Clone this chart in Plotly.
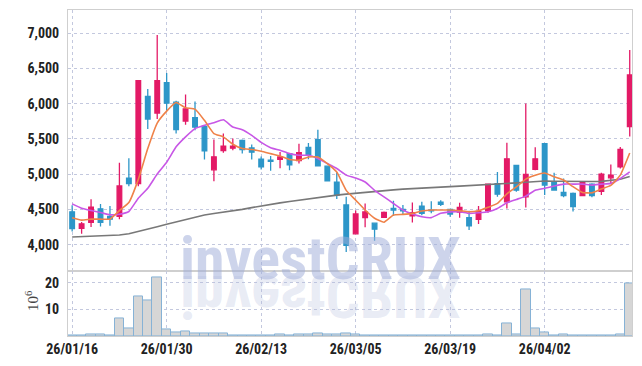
import plotly.graph_objects as go
from plotly.subplots import make_subplots

dates = ["26/01/16","26/01/19","26/01/20","26/01/21","26/01/22","26/01/23","26/01/26","26/01/27","26/01/28","26/01/29",
         "26/01/30","26/02/02","26/02/03","26/02/04","26/02/05","26/02/06","26/02/09","26/02/10","26/02/11","26/02/12",
         "26/02/13","26/02/19","26/02/20","26/02/23","26/02/24","26/02/25","26/02/26","26/02/27","26/03/03","26/03/04",
         "26/03/05","26/03/06","26/03/09","26/03/10","26/03/11","26/03/12","26/03/13","26/03/16","26/03/17","26/03/18",
         "26/03/19","26/03/20","26/03/23","26/03/24","26/03/25","26/03/26","26/03/27","26/03/30","26/03/31","26/04/01",
         "26/04/02","26/04/03","26/04/06","26/04/07","26/04/08","26/04/09","26/04/10","26/04/13","26/04/14","26/04/15"]

open_ = [4465,4230,4315,4508,4400,4400,4945,4865,6101,5866,
         6298,6021,5753,5800,5678,5062,5335,5368,5480,5372,
         5211,5197,5211,5291,5193,5380,5488,5113,4887,4563,
         4154,4383,4304,4388,4514,4500,4407,4547,4491,4603,
         4500,4462,4383,4359,4481,4866,4608,5124,4678,5068,
         5431,4892,4742,4728,4695,4859,4756,4948,5103,5675]
high = [4559,4320,4644,4578,4550,5161,5227,6330,6209,6975,
        6435,6040,6129,6030,5690,5490,5575,5504,5490,5420,
        5250,5258,5315,5300,5432,5441,5629,5120,5028,4681,
        4485,4584,4310,4470,4621,4561,4598,4607,4617,4631,
        4505,4594,4481,4547,4860,5031,5444,5130,6002,5383,
        5440,5019,4939,4740,4885,4870,5019,5136,5385,6759]
low = [4188,4155,4249,4258,4268,4362,4830,4830,5640,5781,
       5900,5575,5701,5622,5208,4898,5302,5340,5292,5208,
       5066,5047,5085,5056,5150,5211,5110,4900,4648,3897,
       4150,4248,4056,4380,4407,4435,4313,4416,4444,4547,
       4397,4383,4209,4293,4453,4678,4514,4750,4528,5054,
       4705,4765,4672,4470,4690,4672,4705,4869,5080,5535]
close = [4226,4296,4531,4315,4362,4832,4865,6327,5781,6327,
         6007,5631,5927,5669,5330,5246,5396,5396,5349,5311,
         5103,5183,5244,5131,5305,5277,5117,4906,4700,3990,
         4435,4463,4220,4458,4490,4481,4453,4444,4481,4570,
         4434,4528,4265,4472,4857,4716,5218,4772,4998,5218,
         4845,4775,4695,4540,4878,4695,5000,4986,5352,6407]

ma_short = [4381,4348,4362,4362,4362,4484,4597,4926,5363,5725,
            5894,6016,5941,5922,5763,5575,5528,5424,5363,5349,
            5325,5291,5258,5207,5197,5244,5244,5150,5030,4770,
            4632,4491,4374,4318,4421,4430,4444,4477,4491,4491,
            4491,4481,4467,4481,4530,4585,4720,4819,4930,4984,
            5016,4962,4916,4822,4740,4735,4790,4840,4986,5300]
ma_mid = [4578,4517,4484,4456,4423,4432,4470,4658,4799,5001,
          5168,5387,5528,5645,5692,5730,5772,5669,5631,5551,
          5450,5376,5338,5291,5268,5268,5221,5150,5080,4986,
          4945,4888,4771,4677,4584,4491,4435,4397,4383,4444,
          4465,4467,4444,4453,4467,4514,4594,4641,4688,4772,
          4800,4831,4859,4859,4859,4845,4859,4869,4939,5033]
ma_long = [4108,4112,4117,4122,4128,4138,4155,4185,4220,4255,
           4290,4325,4360,4395,4420,4442,4460,4480,4500,4525,
           4550,4572,4593,4613,4632,4650,4668,4685,4702,4716,
           4730,4742,4754,4765,4777,4787,4796,4804,4810,4817,
           4823,4830,4836,4842,4848,4856,4866,4876,4886,4895,
           4902,4900,4897,4895,4894,4895,4898,4908,4928,4968]
volume_m = [0.2,0.2,0.5,0.5,0.2,6.5,2.8,14.8,13.3,21.9,
            2.4,1.3,1.6,0.9,0.9,0.9,0.9,0.15,0.15,0.15,
            0.15,0.15,0.5,0.2,0.5,0.5,0.9,0.5,0.4,0.9,
            0.5,0.2,0.2,0.05,0.2,0.05,0.05,0.05,0.05,0.05,
            0.15,0.1,0.15,0.05,0.5,0.3,4.7,0.5,17.4,2.8,
            1.3,0.1,0.5,0.1,0.1,0.1,0.1,0.1,0.7,19.6]

tick_idx = [0, 10, 20, 30, 40, 50]
tick_dates = [dates[i] for i in tick_idx]

UP = "#e31a66"
DOWN = "#2d96c8"
COND = "Roboto Condensed, Roboto, sans-serif"
TICKFONT = dict(family=COND, size=14, color="#222222", weight="bold")
GRID = "#c3c8de"
FRAME = "#cfcfcf"

fig = make_subplots(rows=2, cols=1, shared_xaxes=True, vertical_spacing=0)

fig.add_trace(go.Candlestick(x=dates, open=open_, high=high, low=low, close=close,
                             increasing=dict(line=dict(color=UP, width=1.3), fillcolor=UP),
                             decreasing=dict(line=dict(color=DOWN, width=1.3), fillcolor=DOWN),
                             showlegend=False, hoverinfo="skip"), row=1, col=1)
fig.add_trace(go.Scatter(x=dates, y=ma_long, mode="lines", line=dict(color="#787878", width=1.6),
                         showlegend=False), row=1, col=1)
fig.add_trace(go.Scatter(x=dates, y=ma_mid, mode="lines", line=dict(color="#c857e6", width=1.6, shape="spline", smoothing=0.4),
                         showlegend=False), row=1, col=1)
fig.add_trace(go.Scatter(x=dates, y=ma_short, mode="lines", line=dict(color="#ef8249", width=1.6, shape="spline", smoothing=0.4),
                         showlegend=False), row=1, col=1)
fig.add_trace(go.Bar(x=dates, y=volume_m, marker=dict(color="#d6d6d6", line=dict(color="#86b2d6", width=1)),
                     showlegend=False), row=2, col=1)

xcommon = dict(type="category", range=[-0.44, 59.24], showline=True, mirror=True, linecolor=FRAME, linewidth=1,
               showgrid=True, gridcolor=GRID, griddash="dot", gridwidth=1,
               tickmode="array", tickvals=tick_dates, ticktext=tick_dates, ticks="", zeroline=False)
fig.update_layout(
    width=642, height=366,
    margin=dict(l=68, r=10, t=9, b=29),
    paper_bgcolor="white", plot_bgcolor="white",
    bargap=0, showlegend=False,
    xaxis=dict(**xcommon, showticklabels=False, rangeslider=dict(visible=False)),
    xaxis2=dict(**xcommon, showticklabels=True, tickfont=TICKFONT),
    yaxis=dict(domain=[0.198, 1], range=[3620, 7328], tickmode="linear", tick0=4000, dtick=500,
               tickformat=",d", tickfont=TICKFONT, showline=True, mirror=True, linecolor=FRAME,
               showgrid=True, gridcolor=GRID, griddash="dot", zeroline=False, ticks="", ticklabelstandoff=5,
               automargin=False),
    yaxis2=dict(domain=[0, 0.198], range=[0, 24.2], tickmode="array", tickvals=[10, 20],
                tickfont=TICKFONT, showline=True, mirror=True, linecolor=FRAME,
                showgrid=True, gridcolor=GRID, griddash="dot", zeroline=False, ticks="", ticklabelstandoff=5,
                automargin=False),
)

WM_FONT = dict(family=COND, size=60, weight="bold")
fig.add_annotation(xref="paper", yref="paper", x=0.447, y=0.238, text="investCRUX", showarrow=False,
                   xanchor="center", yanchor="middle", font=dict(**WM_FONT, color="rgba(160,173,216,0.52)"))
fig.add_annotation(xref="paper", yref="paper", x=0.447, y=0.121, text="investCRUX", showarrow=False,
                   xanchor="center", yanchor="middle", font=dict(**WM_FONT, color="rgba(180,188,222,0.3)"))
fig.add_annotation(xref="paper", yref="paper", x=-0.064, y=0.107, text="10<sup>6</sup>", showarrow=False,
                   textangle=-90, xanchor="center", yanchor="middle",
                   font=dict(family="Liberation Serif, DejaVu Serif, serif", size=15, color="#444444"))

post = """
document.body.style.margin = '0';
document.body.style.padding = '0';
var t = document.querySelector('.annotation[data-index="1"] .annotation-text');
if (t) { t.style.transformBox = 'fill-box'; t.style.transformOrigin = 'center'; t.style.transform = 'scaleY(-1)'; }
"""
fig.write_html("out.html", post_script=post, config={"displayModeBar": False})
